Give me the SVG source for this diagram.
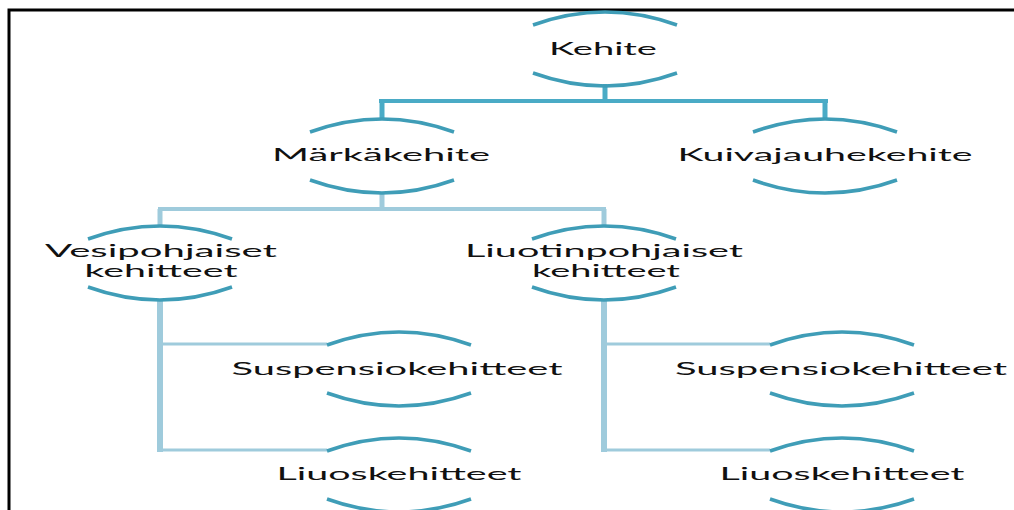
<svg xmlns="http://www.w3.org/2000/svg" width="1014" height="510" viewBox="0 0 1014 510">
  <style>
    .frame { fill: none; stroke: #000; stroke-width: 3; }
    .arc { fill: none; stroke: #3f9db7; stroke-width: 3.5; stroke-linecap: butt; }
    .lbl { font-family: Lato, "Open Sans", sans-serif; font-size: 16.5px; fill: #111; text-anchor: middle; }
    .c1 { fill: none; stroke: #4aabc6; }
    .c2 { fill: none; stroke: #9fcbdc; }
  </style>
  <defs>
    <!-- top and bottom bracket arcs of a node, centred on (0,0) -->
    <g id="brackets">
      <path class="arc" d="M -72 -23 Q 0 -49 72 -23"/>
      <path class="arc" d="M -72 25 Q 0 51 72 25"/>
    </g>
  </defs>

  <rect width="1014" height="510" fill="#fff"/>
  <path class="frame" d="M 9 515 V 10 H 1020"/>

  <g id="connectors">
    <path class="c1" stroke-width="5" d="M 605 84 V 101"/>
    <path class="c1" stroke-width="4" d="M 379 101 H 828"/>
    <path class="c1" stroke-width="5" d="M 382 101 V 118 M 825 101 V 118"/>
    <path class="c2" stroke-width="5" d="M 382 192 V 209"/>
    <path class="c2" stroke-width="4" d="M 158 209 H 606"/>
    <path class="c2" stroke-width="5" d="M 160 209 V 225 M 604 209 V 225"/>
    <path class="c2" stroke-width="6" d="M 160 300 V 452"/>
    <path class="c2" stroke-width="3" d="M 160 344 H 327 M 160 450 H 327"/>
    <path class="c2" stroke-width="6" d="M 604 300 V 452"/>
    <path class="c2" stroke-width="3" d="M 604 344 H 770 M 604 450 H 770"/>
  </g>

  <g id="kehite">
    <use href="#brackets" x="605" y="48"/>
    <text class="lbl" x="603" y="55" textLength="108" lengthAdjust="spacingAndGlyphs">Kehite</text>
  </g>
  <g id="markakehite">
    <use href="#brackets" x="382" y="155"/>
    <text class="lbl" x="381" y="161" textLength="218" lengthAdjust="spacingAndGlyphs">Märkäkehite</text>
  </g>
  <g id="kuivajauhekehite">
    <use href="#brackets" x="825" y="155"/>
    <text class="lbl" x="825" y="161" textLength="295" lengthAdjust="spacingAndGlyphs">Kuivajauhekehite</text>
  </g>
  <g id="vesipohjaiset">
    <use href="#brackets" x="160" y="262"/>
    <text class="lbl"><tspan x="161" y="257" textLength="232" lengthAdjust="spacingAndGlyphs">Vesipohjaiset</tspan><tspan x="161" y="277" textLength="153" lengthAdjust="spacingAndGlyphs">kehitteet</tspan></text>
  </g>
  <g id="liuotinpohjaiset">
    <use href="#brackets" x="604" y="262"/>
    <text class="lbl"><tspan x="604" y="257" textLength="278" lengthAdjust="spacingAndGlyphs">Liuotinpohjaiset</tspan><tspan x="606" y="277" textLength="148" lengthAdjust="spacingAndGlyphs">kehitteet</tspan></text>
  </g>
  <g id="suspensio-vesi">
    <use href="#brackets" x="399" y="368"/>
    <text class="lbl" x="397" y="375" textLength="331" lengthAdjust="spacingAndGlyphs">Suspensiokehitteet</text>
  </g>
  <g id="liuos-vesi">
    <use href="#brackets" x="399" y="474"/>
    <text class="lbl" x="399" y="480" textLength="245" lengthAdjust="spacingAndGlyphs">Liuoskehitteet</text>
  </g>
  <g id="suspensio-liuotin">
    <use href="#brackets" x="842" y="368"/>
    <text class="lbl" x="841" y="375" textLength="332" lengthAdjust="spacingAndGlyphs">Suspensiokehitteet</text>
  </g>
  <g id="liuos-liuotin">
    <use href="#brackets" x="842" y="474"/>
    <text class="lbl" x="842" y="480" textLength="245" lengthAdjust="spacingAndGlyphs">Liuoskehitteet</text>
  </g>
</svg>
